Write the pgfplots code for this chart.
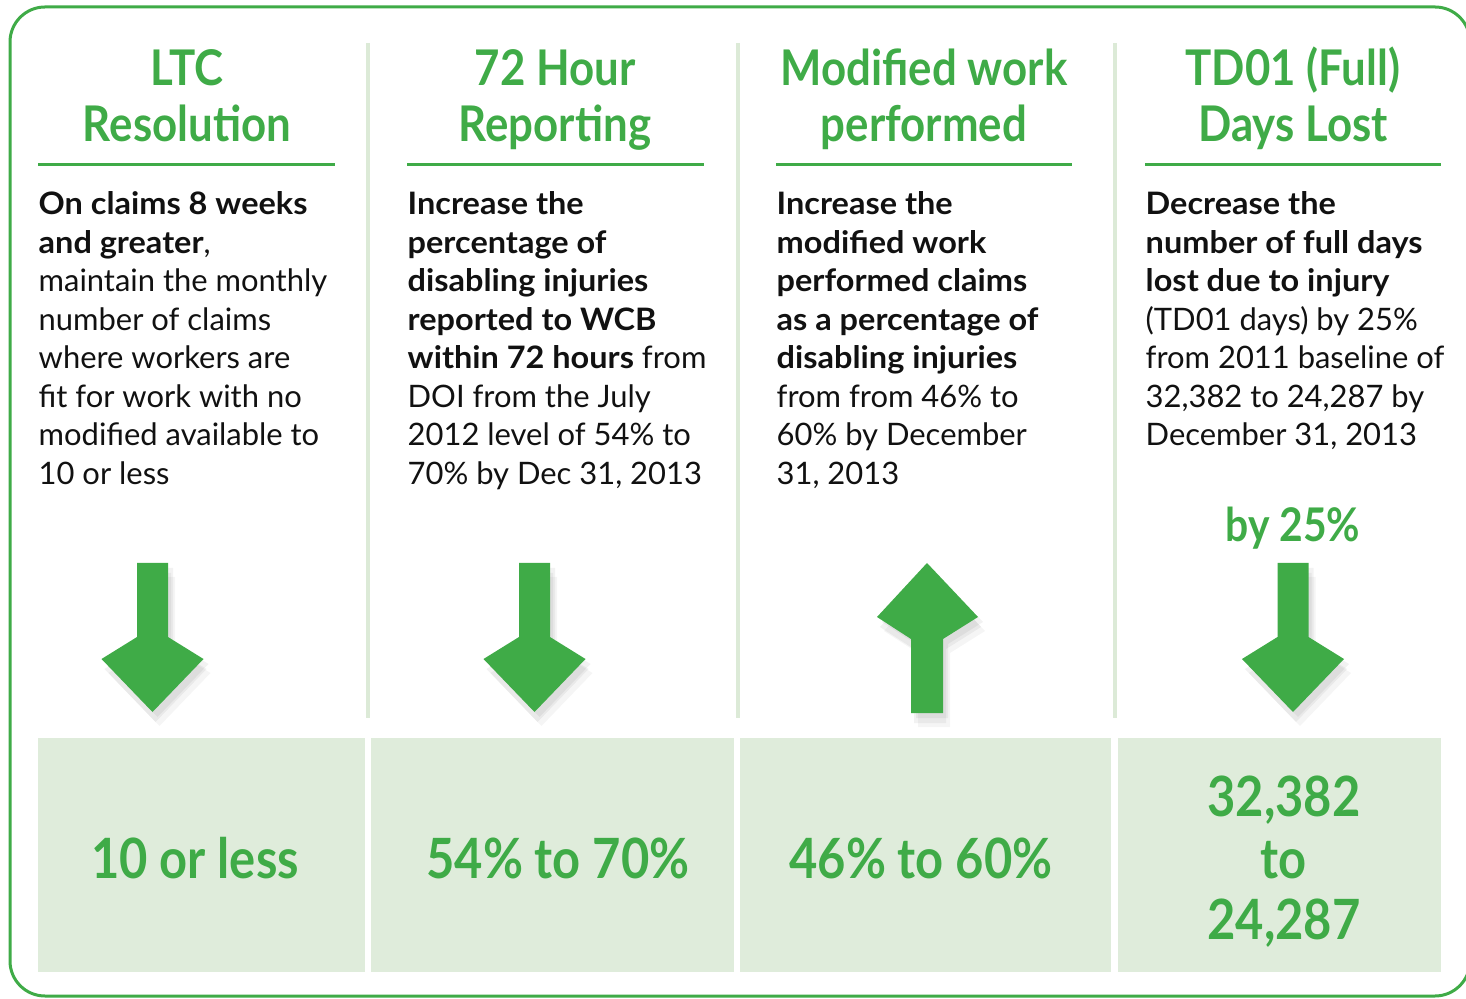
\documentclass[border=0pt]{standalone}
\usepackage{fontspec}
\setmainfont{Lato}[BoldFeatures={FakeStretch=1.05}]
\newfontfamily\cond[FakeStretch=0.89]{Lato}
\newfontfamily\condb[FakeStretch=0.88]{Lato}
\usepackage{pgfplots}
\pgfplotsset{compat=1.18}
\definecolor{grn}{HTML}{3FAB47}
\definecolor{sep}{HTML}{DCEAD7}
\definecolor{boxfill}{HTML}{DFECDB}
\definecolor{ink}{HTML}{111111}
\tikzset{
  ttl/.style={anchor=base, inner sep=0pt, text=grn, font=\cond\bfseries\fontsize{14}{16}\selectfont},
  sub/.style={anchor=base, inner sep=0pt, text=grn, font=\condb\bfseries\fontsize{13.2}{16}\selectfont},
  big/.style={anchor=base, inner sep=0pt, text=grn, font=\condb\bfseries\fontsize{15.8}{18}\selectfont},
  body/.style={anchor=base west, inner sep=0pt, text=ink, font=\fontsize{8.8}{10}\selectfont},
}
\newcommand{\bl}[3]{\node[body] at (axis cs:#1,#2) {#3};}
% arrow with a soft drop shadow; coordinates in pixel units, y grows downwards
\newcommand{\arrowshape}[1]{%
  \addplot[fill=black, draw=none, opacity=0.05, xshift=0.5mm, yshift=-0.5mm] coordinates {#1} -- cycle;
  \addplot[fill=black, draw=none, opacity=0.05, xshift=0.3mm, yshift=-1.0mm] coordinates {#1} -- cycle;
  \addplot[fill=black, draw=none, opacity=0.04, xshift=0.7mm, yshift=-1.4mm] coordinates {#1} -- cycle;
  \addplot[fill=grn, draw=none] coordinates {#1} -- cycle;
}
\begin{document}
\begin{tikzpicture}
\begin{axis}[
  scale only axis, width=14.66cm, height=9.99cm,
  xmin=0, xmax=1466, ymin=0, ymax=999, y dir=reverse,
  hide axis, clip=true
]
  % outer frame (runs past the right edge and is clipped there)
  \addplot[draw=grn, line width=0.3mm, rounded corners=3.5mm] coordinates {(10,7) (1470,7) (1470,996) (10,996)} -- cycle;

  % column separators
  \addplot[draw=sep, line width=0.4mm] coordinates {(368,43) (368,718)};
  \addplot[draw=sep, line width=0.4mm] coordinates {(738,43) (738,718)};
  \addplot[draw=sep, line width=0.4mm] coordinates {(1115,43) (1115,718)};

  % title underlines
  \addplot[draw=grn, line width=0.3mm] coordinates {(38,165) (335,165)};
  \addplot[draw=grn, line width=0.3mm] coordinates {(407,165) (704,165)};
  \addplot[draw=grn, line width=0.3mm] coordinates {(776,165) (1072,165)};
  \addplot[draw=grn, line width=0.3mm] coordinates {(1145,165) (1441,165)};

  % bottom boxes
  \addplot[fill=boxfill, draw=none] coordinates {(38,738) (365,738) (365,972) (38,972)} -- cycle;
  \addplot[fill=boxfill, draw=none] coordinates {(371,738) (734,738) (734,972) (371,972)} -- cycle;
  \addplot[fill=boxfill, draw=none] coordinates {(740,738) (1111,738) (1111,972) (740,972)} -- cycle;
  \addplot[fill=boxfill, draw=none] coordinates {(1118,738) (1441,738) (1441,972) (1118,972)} -- cycle;

  % arrows
  \arrowshape{(137,563) (168,563) (168,637) (203.5,659) (152.5,712) (101.5,659) (137,637)}
  \arrowshape{(519,563) (550,563) (550,637) (585.5,659) (534.5,712) (483.5,659) (519,637)}
  \arrowshape{(927,563) (978,617) (943,639) (943,713) (911,713) (911,639) (877,617)}
  \arrowshape{(1277.5,563) (1308.5,563) (1308.5,637) (1344,659) (1293,712) (1242,659) (1277.5,637)}

  % titles
  \node[ttl] at (axis cs:187,86) {LTC};
  \node[ttl] at (axis cs:187,142) {Resolution};
  \node[ttl] at (axis cs:555,86) {72 Hour};
  \node[ttl] at (axis cs:555,142) {Reporting};
  \node[ttl] at (axis cs:924,86) {Modified work};
  \node[ttl] at (axis cs:924,142) {performed};
  \node[ttl] at (axis cs:1293,86) {TD01 (Full)};
  \node[ttl] at (axis cs:1293,142) {Days Lost};

  % column 1
  \bl{38}{215}{\textbf{On claims 8 weeks}}
  \bl{38}{253.5}{\textbf{and greater},}
  \bl{38}{292}{maintain the monthly}
  \bl{38}{330.5}{number of claims}
  \bl{38}{369}{where workers are}
  \bl{38}{407.5}{fit for work with no}
  \bl{38}{446}{modified available to}
  \bl{38}{484.5}{10 or less}
  % column 2
  \bl{407}{215}{\textbf{Increase the}}
  \bl{407}{253.5}{\textbf{percentage of}}
  \bl{407}{292}{\textbf{disabling injuries}}
  \bl{407}{330.5}{\textbf{reported to WCB}}
  \bl{407}{369}{\textbf{within 72 hours} from}
  \bl{407}{407.5}{DOI from the July}
  \bl{407}{446}{2012 level of 54\% to}
  \bl{407}{484.5}{70\% by Dec 31, 2013}
  % column 3
  \bl{776}{215}{\textbf{Increase the}}
  \bl{776}{253.5}{\textbf{modified work}}
  \bl{776}{292}{\textbf{performed claims}}
  \bl{776}{330.5}{\textbf{as a percentage of}}
  \bl{776}{369}{\textbf{disabling injuries}}
  \bl{776}{407.5}{from from 46\% to}
  \bl{776}{446}{60\% by December}
  \bl{776}{484.5}{31, 2013}
  % column 4
  \bl{1145}{215}{\textbf{Decrease the}}
  \bl{1145}{253.5}{\textbf{number of full days}}
  \bl{1145}{292}{\textbf{lost due to injury}}
  \bl{1145}{330.5}{(TD01 days) by 25\%}
  \bl{1145}{369}{from 2011 baseline of}
  \bl{1145}{407.5}{32,382 to 24,287 by}
  \bl{1145}{446}{December 31, 2013}

  \node[sub] at (axis cs:1293,542) {by 25\%};

  % box values
  \node[big] at (axis cs:195,878) {10 or less};
  \node[big] at (axis cs:558,878) {54\% to 70\%};
  \node[big] at (axis cs:921,878) {46\% to 60\%};
  \node[big] at (axis cs:1284,816) {32,382};
  \node[big] at (axis cs:1284,878) {to};
  \node[big] at (axis cs:1284,939) {24,287};
\end{axis}
\pgfresetboundingbox
\useasboundingbox (current axis.south west) rectangle (current axis.north east);
\end{tikzpicture}
\end{document}
